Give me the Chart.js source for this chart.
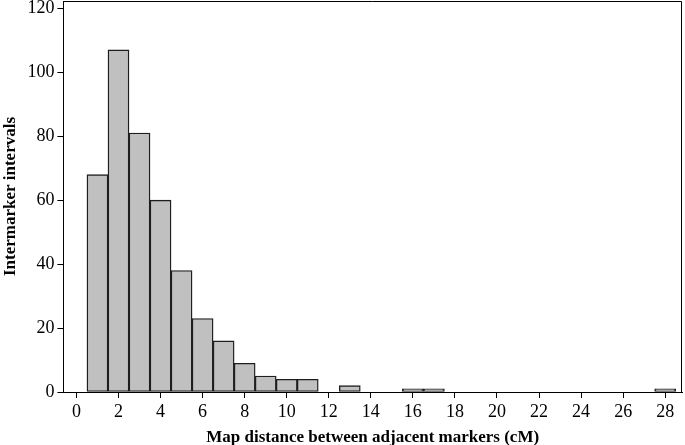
<!DOCTYPE html>
<html><head><meta charset="utf-8">
<script src="https://cdn.jsdelivr.net/npm/chart.js@4/dist/chart.umd.min.js"></script>
<style>html,body{margin:0;padding:0;background:#fff}</style>
</head><body>
<canvas id="c" width="685" height="445"></canvas>
<script>
const binCenters = [1,2,3,4,5,6,7,8,9,10,11,12,13,14,15,16,17,18,19,20,21,22,23,24,25,26,27,28];
const counts     = [68,107,81,60,38,23,16,9,5,4,4,0,2,0,0,1,1,0,0,0,0,0,0,0,0,0,0,1];
const xTickValues = [0,2,4,6,8,10,12,14,16,18,20,22,24,26,28];
const yTickValues = [0,20,40,60,80,100,120];
const xTitle = 'Map distance between adjacent markers (cM)';
const yTitle = 'Intermarker intervals';

const serif = 'Liberation Serif, Times New Roman, serif';

const framePlugin = {
  id: 'frame',
  afterDraw(chart) {
    const {ctx, chartArea: a} = chart;
    ctx.save();
    ctx.strokeStyle = '#000';
    ctx.lineWidth = 1;
    ctx.beginPath();
    ctx.moveTo(Math.round(a.left), Math.round(a.top) + 0.5);
    ctx.lineTo(Math.round(a.right) - 0.5, Math.round(a.top) + 0.5);
    ctx.lineTo(Math.round(a.right) - 0.5, Math.round(a.bottom));
    ctx.stroke();
    ctx.restore();
  }
};

new Chart(document.getElementById('c'), {
  type: 'bar',
  data: {
    datasets: [{
      data: binCenters.map((x, i) => ({x: x, y: counts[i]})),
      backgroundColor: '#c0c0c0',
      borderColor: '#1e1e1e',
      borderWidth: 1.4,
      borderSkipped: false,
      barPercentage: 1,
      categoryPercentage: 1
    }]
  },
  options: {
    responsive: false,
    devicePixelRatio: 1,
    animation: false,
    layout: {padding: {top: 1, right: 3, left: 0, bottom: -3}},
    plugins: {legend: {display: false}, tooltip: {enabled: false}},
    scales: {
      x: {
        type: 'linear',
        offset: false,
        min: -0.62,
        max: 28.8,
        afterBuildTicks: s => { s.ticks = xTickValues.map(v => ({value: v})); },
        grid: {display: true, offset: false, drawOnChartArea: false, drawTicks: true, tickLength: 6, color: '#000', lineWidth: 1},
        border: {display: true, color: '#000', width: 1},
        ticks: {font: {family: serif, size: 18}, color: '#000', padding: 3, maxRotation: 0, autoSkip: false},
        title: {display: true, text: xTitle, font: {family: serif, size: 17, weight: 'bold'}, color: '#000', padding: {top: 2, bottom: 0}}
      },
      y: {
        type: 'linear',
        min: 0,
        max: 122.3,
        afterBuildTicks: s => { s.ticks = yTickValues.map(v => ({value: v})); },
        afterFit: s => { s.paddingTop = 0; },
        grid: {display: true, drawOnChartArea: false, drawTicks: true, tickLength: 6, color: '#000', lineWidth: 1},
        border: {display: true, color: '#000', width: 1},
        ticks: {font: {family: serif, size: 18}, color: '#000', padding: 3},
        title: {display: true, text: yTitle, font: {family: serif, size: 17, weight: 'bold'}, color: '#000', padding: {top: 0, bottom: 4}}
      }
    }
  },
  plugins: [framePlugin]
});
</script>
</body></html>
